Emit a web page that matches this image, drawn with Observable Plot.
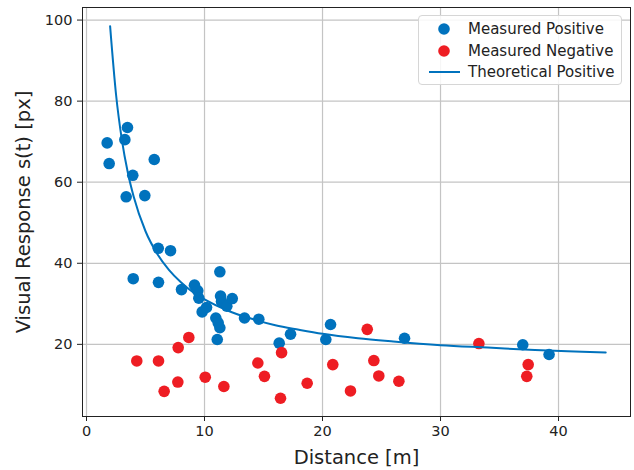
<!DOCTYPE html>
<html>
<head>
<meta charset="utf-8">
<script src="https://cdn.jsdelivr.net/npm/d3@7"></script>
<script src="https://cdn.jsdelivr.net/npm/@observablehq/plot@0.6"></script>
<style>
  html, body { margin: 0; padding: 0; background: #fff; }
  #wrap { position: relative; width: 634px; height: 470px; font-family: "DejaVu Sans", sans-serif; }
  #wrap svg [aria-label="x-axis tick label"] text,
  #wrap svg [aria-label="y-axis tick label"] text { font-size: 14.5px; }
  #wrap svg [aria-label="x-axis label"] text,
  #wrap svg [aria-label="y-axis label"] text { font-size: 19.5px; }
  #legend { position: absolute; left: 418px; top: 15px; width: 204px; height: 70px;
    border: 1px solid #d6d6d6; border-radius: 4px; background: rgba(255,255,255,0.85);
    box-sizing: border-box; font-size: 15px; color: #222; }
  .item { position: absolute; left: 0; height: 20px; display: flex; align-items: center; }
  .item svg { position: absolute; left: 5px; top: 0; }
  .item span { position: absolute; left: 49px; white-space: nowrap; line-height: 20px; top: 0; }
</style>
</head>
<body>
<div id="wrap"></div>
<script>
// Measured Positive
const posX = [1.75, 1.92, 3.25, 3.47, 3.36, 3.92, 3.96, 4.94, 5.74, 6.08, 6.10, 7.12, 8.05, 9.15, 9.43, 9.52, 9.80, 10.17, 10.96, 11.16, 11.30, 11.08, 11.30, 11.36, 11.44, 11.89, 12.35, 13.39, 14.60, 16.33, 17.29, 20.28, 20.68, 26.95, 36.97, 39.20];
const posY = [69.7, 64.6, 70.5, 73.5, 56.4, 61.7, 36.2, 56.7, 65.6, 43.7, 35.3, 43.1, 33.5, 34.6, 33.2, 31.4, 28.0, 29.1, 26.5, 25.3, 24.1, 21.2, 37.9, 31.9, 30.6, 29.4, 31.3, 26.5, 26.2, 20.3, 22.5, 21.2, 24.9, 21.5, 19.9, 17.5];
// Measured Negative
const negX = [4.26, 6.10, 6.58, 7.74, 7.77, 8.67, 10.06, 11.64, 14.52, 15.08, 16.53, 16.44, 18.70, 20.87, 22.37, 23.79, 24.35, 24.77, 26.47, 33.25, 37.43, 37.31];
const negY = [15.9, 15.9, 8.4, 10.7, 19.2, 21.7, 11.9, 9.6, 15.4, 12.1, 17.95, 6.7, 10.4, 15.0, 8.5, 23.7, 16.0, 12.2, 10.9, 20.2, 15.0, 12.1];
// Theoretical Positive
const theoX = [2, 2.5, 3, 3.5, 4, 5, 6, 7, 8, 9, 10, 12, 14, 16, 18, 20, 23, 26, 30, 34, 38, 42, 44];
const theoY = [98.5, 81.7, 70.4, 62.4, 56.4, 47.9, 42.3, 38.3, 35.3, 32.9, 31.1, 28.3, 26.3, 24.7, 23.6, 22.6, 21.5, 20.7, 19.8, 19.2, 18.6, 18.2, 18.0];

const xTicks = [0, 10, 20, 30, 40];
const yTicks = [20, 40, 60, 80, 100];
const legendLabels = ["Measured Positive", "Measured Negative", "Theoretical Positive"];

const BLUE = "#0072bd";
const RED = "#ee1d23";

const pos = posX.map((x, i) => ({x, y: posY[i]}));
const neg = negX.map((x, i) => ({x, y: negY[i]}));
const theo = theoX.map((x, i) => ({x, y: theoY[i]}));

const chart = Plot.plot({
  width: 634,
  height: 470,
  marginLeft: 82,
  marginRight: 4,
  marginTop: 7,
  marginBottom: 54,
  style: {fontFamily: "DejaVu Sans, sans-serif", background: "white", color: "#222"},
  x: {domain: [-0.34, 46.1]},
  y: {domain: [2.2, 103.1]},
  marks: [
    Plot.gridX(xTicks, {stroke: "#c4c4c4", strokeOpacity: 1, strokeWidth: 1.2}),
    Plot.gridY(yTicks, {stroke: "#c4c4c4", strokeOpacity: 1, strokeWidth: 1.2}),
    Plot.dot(pos, {x: "x", y: "y", r: 5.8, fill: BLUE}),
    Plot.dot(neg, {x: "x", y: "y", r: 5.8, fill: RED}),
    Plot.line(theo, {x: "x", y: "y", stroke: BLUE, strokeWidth: 2, curve: "monotone-x"}),
    Plot.frame({stroke: "#222", strokeWidth: 1}),
    Plot.axisX(xTicks, {tickSize: 5, tickPadding: 4, label: "Distance [m]", labelAnchor: "center", labelOffset: 47, labelArrow: "none"}),
    Plot.axisY(yTicks, {tickSize: 5, tickPadding: 5, label: "Visual Response s(t) [px]", labelAnchor: "center", labelOffset: 66, labelArrow: "none"})
  ]
});

const wrap = document.getElementById("wrap");
wrap.appendChild(chart);

// legend overlay
const legend = document.createElement("div");
legend.id = "legend";
legendLabels.forEach((lab, i) => {
  const item = document.createElement("div");
  item.className = "item";
  item.style.top = (3 + i * 21.7) + "px";
  item.style.width = "200px";
  const color = i === 1 ? RED : BLUE;
  const marker = i < 2
    ? `<svg width="36" height="20"><circle cx="20" cy="10" r="5.8" fill="${color}"/></svg>`
    : `<svg width="36" height="20"><line x1="5" x2="37" y1="10" y2="10" stroke="${color}" stroke-width="2"/></svg>`;
  item.innerHTML = marker + `<span>${lab}</span>`;
  legend.appendChild(item);
});
wrap.appendChild(legend);
</script>
</body>
</html>
